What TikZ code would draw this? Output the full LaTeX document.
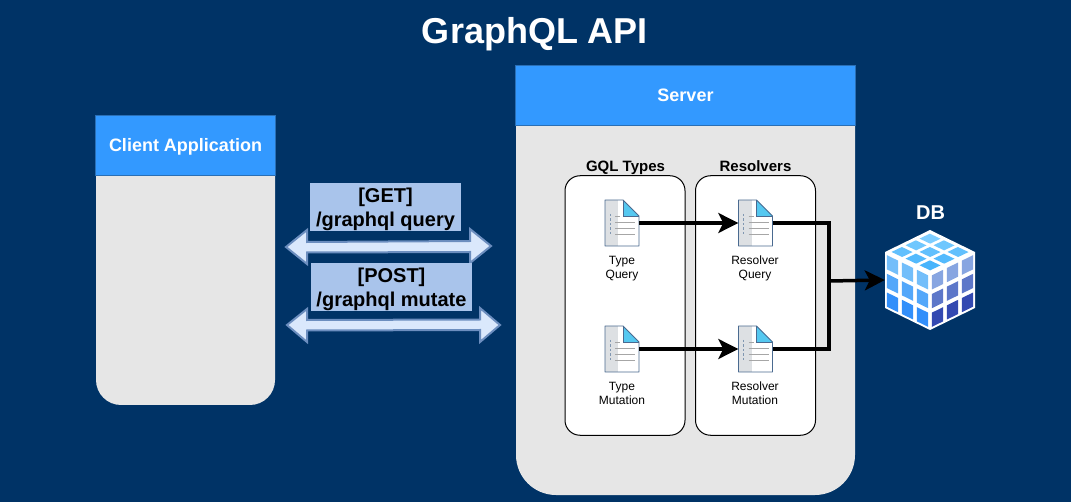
\documentclass[tikz,border=0pt]{standalone}
\usepackage{fontspec}
\setmainfont{Liberation Sans}
\usetikzlibrary{arrows.meta,calc}
\definecolor{bgblue}{HTML}{003366}
\definecolor{headblue}{HTML}{3399FF}
\definecolor{headedge}{HTML}{2A6FB5}
\definecolor{panel}{HTML}{E6E6E6}
\definecolor{labelblue}{HTML}{A9C4EB}
\definecolor{arrowfill}{HTML}{DAE8FC}
\definecolor{arrowedge}{HTML}{6C8EBF}
\definecolor{pageedge}{HTML}{4A6A90}
\definecolor{pagegrey}{HTML}{DDE0E3}
\definecolor{pagecyan}{HTML}{55C8F0}
\definecolor{ltop}{RGB}{115,190,250}
\definecolor{lbot}{RGB}{25,125,250}
\definecolor{rtop}{RGB}{135,165,225}
\definecolor{rbot}{RGB}{30,50,165}
\definecolor{tpa}{RGB}{40,165,250}
\definecolor{tpb}{RGB}{125,205,255}
\tikzset{
  panelshape/.style={fill=panel},
  headbox/.style={fill=headblue,draw=headedge,line width=.7pt,minimum height=59.5pt,inner sep=0pt,text=white,font=\fontsize{18}{21}\selectfont\bfseries},
  groupbox/.style={draw=black,fill=white,line width=1pt,rounded corners=15pt,minimum width=120pt,minimum height=259.5pt,inner sep=0pt},
  grouptitle/.style={anchor=base,font=\fontsize{15}{18}\selectfont\bfseries,text=black,inner sep=0pt},
  apilabel/.style={fill=labelblue,text=black,align=center,inner sep=0pt,font=\fontsize{20}{24}\selectfont\bfseries},
  dblarrow/.style={fill=arrowfill,draw=arrowedge,line width=2pt,line join=miter},
  iconbox/.style={minimum width=34pt,minimum height=46pt,inner sep=0pt},
  iconlabel/.style={align=center,text=black,inner sep=0pt,text depth=3pt,font=\fontsize{12}{14}\selectfont},
  flow/.style={draw=black,line width=3.5pt},
  flowtip/.style={-{Stealth[length=20pt,width=20pt,inset=5pt]}},
}
\newcommand{\docicon}[1]{%
  \fill[white] ($(#1)+(-17,-23)$) -- ($(#1)+(1,-23)$) -- ($(#1)+(17,-7)$) -- ($(#1)+(17,23)$) -- ($(#1)+(-17,23)$) -- cycle;
  \fill[pagegrey] ($(#1)+(-17,-23)$) -- ($(#1)+(-4,-23)$) -- ($(#1)+(-4,23)$) -- ($(#1)+(-17,23)$) -- cycle;
  \fill[pagecyan] ($(#1)+(1,-23)$) -- ($(#1)+(17,-7)$) -- ($(#1)+(1,-7)$) -- cycle;
  \draw[pageedge,line width=.9pt,line join=round] ($(#1)+(-17,-23)$) -- ($(#1)+(1,-23)$) -- ($(#1)+(17,-7)$) -- ($(#1)+(17,23)$) -- ($(#1)+(-17,23)$) -- cycle;
  \draw[pageedge,line width=.9pt] ($(#1)+(1,-23)$) -- ($(#1)+(1,-7)$) -- ($(#1)+(17,-7)$);
  \draw[gray!70,line width=.9pt] ($(#1)+(-7,-7)$) -- ($(#1)+(-2,-7)$)
     ($(#1)+(-7,-1)$) -- ($(#1)+(13,-1)$) ($(#1)+(-7,5)$) -- ($(#1)+(13,5)$) ($(#1)+(-7,11)$) -- ($(#1)+(13,11)$);
  \draw[pageedge!70,line width=1pt,dash pattern=on 2.5pt off 2pt] ($(#1)+(-12,-9)$) -- ($(#1)+(-12,12)$);
}
\begin{document}
\begin{tikzpicture}[x=1pt,y=-1pt]
\useasboundingbox (0,0) rectangle (1071,502);
\fill[bgblue] (0,0) rectangle (1071,502);
\node[text=white,inner sep=0pt,anchor=base,font=\fontsize{36}{44}\selectfont\bfseries] (title) at (535,43.5) {GraphQL API};
% client
\path[panelshape] (96,116) -- (275,116) -- (275,380) arc[start angle=0,end angle=90,x radius=25pt,y radius=-25pt] -- (121,405) arc[start angle=90,end angle=180,x radius=25pt,y radius=-25pt] -- cycle;
\node[headbox,minimum width=179.5pt,text depth=4pt,text height=16pt] (client) at (185.5,145.5) {Client Application};
% server
\path[panelshape] (516,66) -- (855,66) -- (855,455) arc[start angle=0,end angle=90,x radius=40pt,y radius=-40pt] -- (556,495) arc[start angle=90,end angle=180,x radius=40pt,y radius=-40pt] -- cycle;
\node[headbox,minimum width=339.5pt] (server) at (685.5,95.5) {Server};
% groups
\node[groupbox] (types) at (625,305.5) {};
\node[groupbox] (resolvers) at (755.5,305.5) {};
\node[grouptitle] (typest) at (625.5,171.5) {GQL Types};
\node[grouptitle] (rest) at (755.5,171.5) {Resolvers};
% double arrows
\path[dblarrow] (286,247) -- (307,230) -- (307,242) -- (470,241) -- (470,229) -- (491,246) -- (470,263) -- (470,252) -- (307,252.5) -- (307,264) -- cycle;
\path[dblarrow] (287,325) -- (307,309) -- (307,320) -- (480,319.5) -- (480,308) -- (500,325) -- (480,342) -- (480,330) -- (307,330.5) -- (307,342) -- cycle;
\node[apilabel,minimum width=151pt,minimum height=48pt] (get) at (385.5,207) {\rule{0pt}{20pt}[GET]\\/graphql query};
\node[apilabel,minimum width=161pt,minimum height=48pt] (post) at (391.5,287) {\rule{0pt}{20pt}[POST]\\/graphql mutate};
% icons
\node[iconbox] (tq) at (622,223) {};
\node[iconbox] (tm) at (622,349) {};
\node[iconbox] (rq) at (755.5,223) {};
\node[iconbox] (rm) at (755.5,349) {};
\docicon{tq}\docicon{tm}\docicon{rq}\docicon{rm}
\node[iconlabel] (tql) at (622,268.5) {Type\\Query};
\node[iconlabel] (tml) at (622,394.5) {Type\\Mutation};
\node[iconlabel] (rql) at (755,268.5) {Resolver\\Query};
\node[iconlabel] (rml) at (755,394.5) {Resolver\\Mutation};
% DB
\node[text=white,inner sep=0pt,font=\fontsize{20}{24}\selectfont\bfseries] (dbt) at (930.5,213) {DB};
\node[minimum width=90pt,minimum height=100pt,inner sep=0pt] (db) at (930,280) {};
\fill[white] (930,230) -- (975,252) -- (975,308) -- (930,330) -- (885,308) -- (885,252) -- cycle;
\foreach \i in {0,1,2}{\foreach \j in {0,1,2}{
  \pgfmathsetmacro{\ua}{(\i+.13)/3}\pgfmathsetmacro{\ub}{(\i+.87)/3}
  \pgfmathsetmacro{\va}{(\j+.12)/3}\pgfmathsetmacro{\vb}{(\j+.88)/3}
  \pgfmathtruncatemacro{\mixe}{100-(\i+\j)*16}
  \pgfmathtruncatemacro{\lp}{100-\j*36}
  \pgfmathtruncatemacro{\rp}{100-\j*40}
  % left face
  \fill[ltop!\lp!lbot] ($(885,252)+\ua*(45,22)+\va*(0,56)$) -- ($(885,252)+\ub*(45,22)+\va*(0,56)$) -- ($(885,252)+\ub*(45,22)+\vb*(0,56)$) -- ($(885,252)+\ua*(45,22)+\vb*(0,56)$) -- cycle;
  % right face
  \fill[rtop!\rp!rbot] ($(930,274)+\ua*(45,-22)+\va*(0,56)$) -- ($(930,274)+\ub*(45,-22)+\va*(0,56)$) -- ($(930,274)+\ub*(45,-22)+\vb*(0,56)$) -- ($(930,274)+\ua*(45,-22)+\vb*(0,56)$) -- cycle;
  % top face
  \fill[tpb!\mixe!tpa] ($(930,232)+\ua*(-42,20)+\va*(42,20)$) -- ($(930,232)+\ub*(-42,20)+\va*(42,20)$) -- ($(930,232)+\ub*(-42,20)+\vb*(42,20)$) -- ($(930,232)+\ua*(-42,20)+\vb*(42,20)$) -- cycle;
}}
% connectors
\coordinate (merge) at (829,281);
\draw[flow,flowtip] (tq.east) -- (rq.west);
\draw[flow,flowtip] (tm.east) -- (rm.west);
\draw[flow,line join=miter] (rq.east) -| (merge) |- (rm.east);
\draw[flow,flowtip] (merge) -- (db.west);
\end{tikzpicture}
\end{document}
